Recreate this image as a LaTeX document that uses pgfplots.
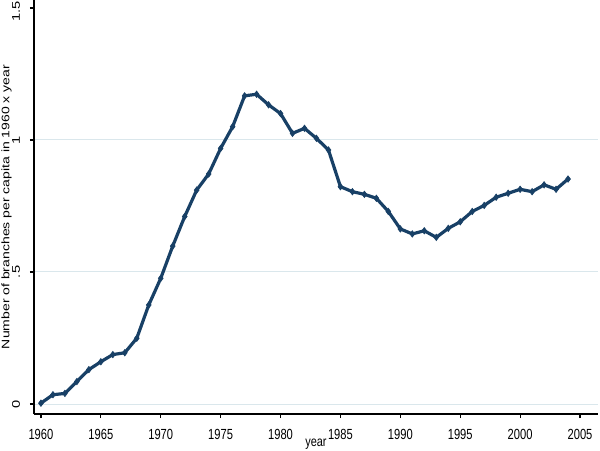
\documentclass[border=0pt]{standalone}
\usepackage{fontspec}
\setmainfont{Liberation Sans}
\usepackage{pgfplots}
\pgfplotsset{compat=1.18}
\definecolor{stnavy}{RGB}{24,64,102}
\definecolor{gridc}{RGB}{218,231,236}
\begin{document}
\begin{tikzpicture}
\begin{axis}[
  scale only axis, width=423pt, height=310.5pt,
  xmin=1959.42, xmax=2006.5, ymin=-0.038, ymax=1.53,
  axis x line*=bottom, axis y line*=left,
  axis line style={line width=0.9pt, black},
  xtick={1960,1965,...,2005},
  ytick={0,0.5,1}, yticklabels={0,.5,1},
  ymajorgrids,
  extra y ticks={1.5}, extra y tick labels={1.5},
  extra y tick style={grid=none, yticklabel style={xshift=-2.6pt}},
  grid style={color=gridc, line width=0.7pt},
  tick align=outside, major tick length=3pt,
  tick style={line width=0.9pt, black},
  /pgf/number format/assume math mode=true,
  xticklabel style={/pgf/number format/1000 sep=, anchor=center, yshift=-12pt, xscale=0.76, font=\fontsize{11}{12}\selectfont},
  yticklabel style={anchor=center, xshift=-10.5pt, rotate=90, yscale=0.76, font=\fontsize{11}{12}\selectfont},
  xlabel={year},
  ylabel={Number of branches per capita in 1960 x year},
  every axis x label/.style={at={(axis description cs:0.5,0)}, anchor=center, yshift=-22.5pt, xscale=0.78, font=\fontsize{10.5}{12}\selectfont},
  every axis y label/.style={at={(axis description cs:0,0.5)}, anchor=center, xshift=-20.5pt, rotate=90, yscale=0.78, font=\fontsize{10.5}{12}\selectfont},
  clip=false,
]
\addplot[color=stnavy, line width=2.4pt, mark=diamond*, mark size=2.4pt, mark options={fill=stnavy, line width=0.5pt}] coordinates {
(1960,0.003) (1961,0.035) (1962,0.040) (1963,0.085) (1964,0.130)
(1965,0.160) (1966,0.187) (1967,0.194) (1968,0.249) (1969,0.375)
(1970,0.476) (1971,0.598) (1972,0.710) (1973,0.810) (1974,0.871)
(1975,0.968) (1976,1.050) (1977,1.167) (1978,1.173) (1979,1.133)
(1980,1.100) (1981,1.025) (1982,1.044) (1983,1.006) (1984,0.962)
(1985,0.823) (1986,0.804) (1987,0.794) (1988,0.779) (1989,0.729)
(1990,0.663) (1991,0.644) (1992,0.656) (1993,0.631) (1994,0.665)
(1995,0.690) (1996,0.729) (1997,0.752) (1998,0.783) (1999,0.798)
(2000,0.813) (2001,0.804) (2002,0.830) (2003,0.813) (2004,0.852)
};
\end{axis}
\pgfresetboundingbox
\useasboundingbox (-25.5pt,-27pt) rectangle (424.5pt,310.5pt);
\end{tikzpicture}
\end{document}
